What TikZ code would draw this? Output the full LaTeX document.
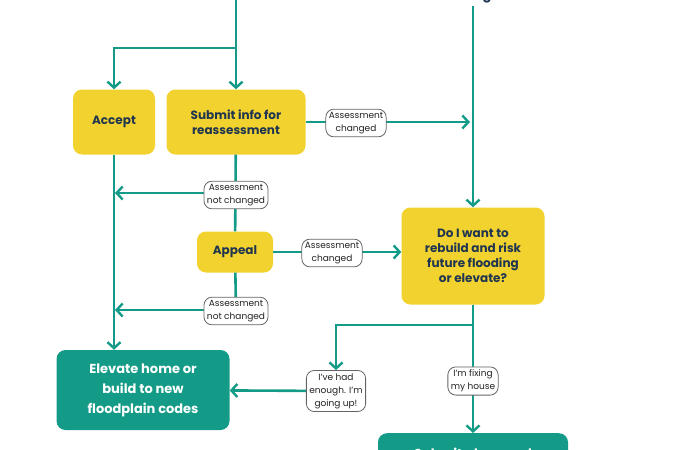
\documentclass[tikz,border=0pt]{standalone}
\usepackage{fontspec}
\setmainfont{Poppins}
\usepackage{tikz}
\usetikzlibrary{arrows.meta,positioning}
\definecolor{flood}{HTML}{139B87}
\definecolor{sun}{HTML}{F2D22E}
\definecolor{navy}{HTML}{1F3550}
\definecolor{ink}{HTML}{222222}

\begin{document}
\begin{tikzpicture}[x=1pt, y=-1pt,
    stage/.style={rounded corners=9pt, fill=sun, text=navy, font=\bfseries\fontsize{12}{15}\selectfont, align=center, inner sep=3pt},
    goal/.style={rounded corners=9pt, fill=flood, text=white, font=\bfseries\fontsize{13}{20}\selectfont, align=center, inner sep=3pt},
    tag/.style={rounded corners=8pt, draw=ink!70, thick, fill=white, text=ink, font=\fontsize{9}{13}\selectfont, align=center, inner sep=3pt},
    flow/.style={line width=2.6pt, draw=flood},
    arr/.style={flow, -{Straight Barb[length=6pt,width=13pt,line width=2.4pt]}}
  ]
  \useasboundingbox (0,0) rectangle (675,450);
  \clip (0,0) rectangle (675,450);

  \node[stage, minimum width=82pt, minimum height=65pt] (accept) at (114,122) {Accept};
  \node[stage, minimum width=139pt, minimum height=65pt] (submit) at (236,122) {Submit info for\\reassessment};
  \node[stage, minimum width=76pt, minimum height=41pt] (appeal) at (235,252) {Appeal};
  \node[stage, minimum width=143pt, minimum height=97pt] (decide) at (473,256) {Do I want to\\rebuild and risk\\future flooding\\or elevate?};
  \node[goal, minimum width=173pt, minimum height=80pt] (elevate) at (143,390) {Elevate home or\\build to new\\floodplain codes};
  \node[goal, minimum width=190pt, minimum height=60pt, anchor=north] (plans) at (473,433) {Submit plans and\\\phantom{x}};
  \node[text=navy, font=\bfseries\fontsize{13}{15}\selectfont] (damaged) at (475,-4) {Damaged};

  \coordinate (top) at (236,0);
  \coordinate (fork) at (236,48);
  \coordinate (split) at (473,325);

  % top branch
  \draw[flow] (top) -- (fork);
  \draw[arr] (fork) -| (accept);
  \draw[arr] (fork) -- (submit);
  \draw[arr] (damaged.south -| decide) -- (decide);

  % reassessment
  \draw[arr] (submit) -- (470,122);
  \node[tag] (chg1) at (356,123) {Assessment\\changed};
  \draw[flow] (submit) -- (appeal);
  \draw[arr] (236,193) -- (115,193);
  \node[tag] (same1) at (236,195) {Assessment\\not changed};

  % appeal
  \draw[arr] (appeal) -- (decide.west |- appeal);
  \node[tag] (chg2) at (332,253) {Assessment\\changed};
  \draw[flow] (appeal) -- (236,310);
  \draw[arr] (236,310) -- (115,310);
  \node[tag] (same2) at (236,311) {Assessment\\not changed};
  \draw[arr] (accept) -- (elevate.north -| accept);

  % decision
  \draw[flow] (decide) -- (split);
  \node[tag] (upward) at (336,391) {I've had\\enough. I'm\\going up!};
  \draw[arr] (split) -| (upward);
  \draw[arr] (upward) -- (elevate);
  \draw[arr] (split) -- (plans);
  \node[tag] (fixing) at (473,381) {I'm fixing\\my house};
\end{tikzpicture}
\end{document}
